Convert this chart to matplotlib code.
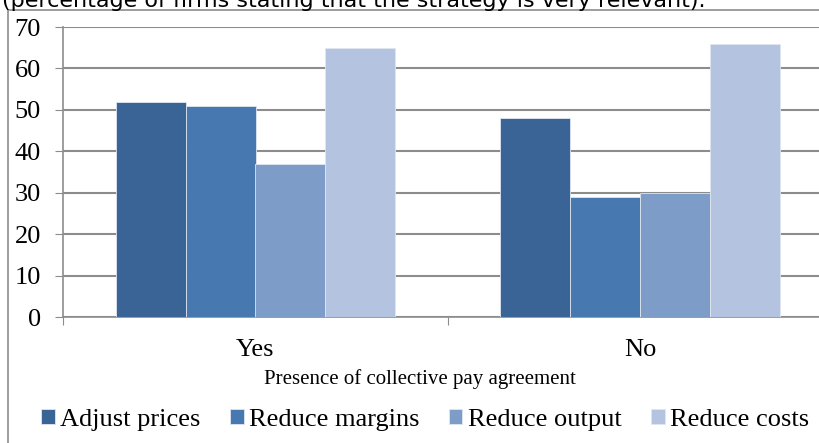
import matplotlib.pyplot as plt
import numpy as np
from matplotlib.patches import Rectangle

# Données
categories = ['Yes', 'No']
series = ['Adjust prices', 'Reduce margins', 'Reduce output', 'Reduce costs']
adjust_prices = [52, 48]
reduce_margins = [51, 29]
reduce_output = [37, 30]
reduce_costs = [65, 66]
couleurs = ['#3B6496', '#4878B0', '#7E9CC8', '#B4C4E0']

valeurs = [adjust_prices, reduce_margins, reduce_output, reduce_costs]
police = 'Liberation Serif'

W, H = 820, 443
fig = plt.figure(figsize=(W / 100, H / 100), dpi=100)

# Axes : x de 63 px à 833 px, y de 27 px (70) à 317 px (0)
ax = fig.add_axes([63 / W, 1 - 317 / H, (833 - 63) / W, (317 - 27) / H])

x = np.arange(len(categories))
largeur = 1 / 5.5
for i, (nom, vals) in enumerate(zip(series, valeurs)):
    ax.bar(x + (i - 1.5) * largeur, vals, largeur, color=couleurs[i],
           edgecolor='#dfe6f0', linewidth=0.6, label=nom, zorder=3)

ax.set_xlim(-0.5, 1.5)
ax.set_ylim(0, 70)
ax.set_yticks(range(0, 71, 10))
ax.set_xticks([-0.5, 0.5, 1.5])
ax.set_xticklabels([])
ax.set_xticks(x, minor=True)
ax.set_xticklabels(categories, minor=True, fontsize=19, family=police)
ax.tick_params(axis='x', which='minor', length=0, pad=16)
ax.tick_params(axis='x', which='major', length=6, direction='out', color='#8c8c8c')
ax.tick_params(axis='y', length=6, direction='out', color='#8c8c8c', pad=10,
               labelsize=19)
for lab in ax.get_yticklabels():
    lab.set_family(police)

ax.grid(axis='y', color='#8c8c8c', linewidth=1.5, zorder=0)
for cote in ['top', 'right']:
    ax.spines[cote].set_visible(False)
for cote in ['left', 'bottom']:
    ax.spines[cote].set_color('#8c8c8c')
    ax.spines[cote].set_linewidth(1.2)

fig.text(420 / W, 1 - 379 / H, 'Presence of collective pay agreement',
         ha='center', va='center', fontsize=15, family=police)

# Titre coupé en haut
fig.text(2 / W, 1 - 7 / H,
         '(percentage of firms stating that the strategy is very relevant).',
         ha='left', va='baseline', fontsize=16, family='DejaVu Sans')

# Cadre du graphique
fig.patches.append(Rectangle((8 / W, -0.1), 1.2, 1 - 10 / H + 0.1,
                             transform=fig.transFigure, fill=False,
                             edgecolor='#8c8c8c', linewidth=1.2))

fig.legend(loc='center', bbox_to_anchor=(425 / W, 1 - 420 / H), ncol=4,
           frameon=False, prop={'family': police, 'size': 19},
           handlelength=0.53, handleheight=0.53, handletextpad=0.2,
           columnspacing=1.1, borderpad=0)

fig.savefig('out.png', dpi=100)
